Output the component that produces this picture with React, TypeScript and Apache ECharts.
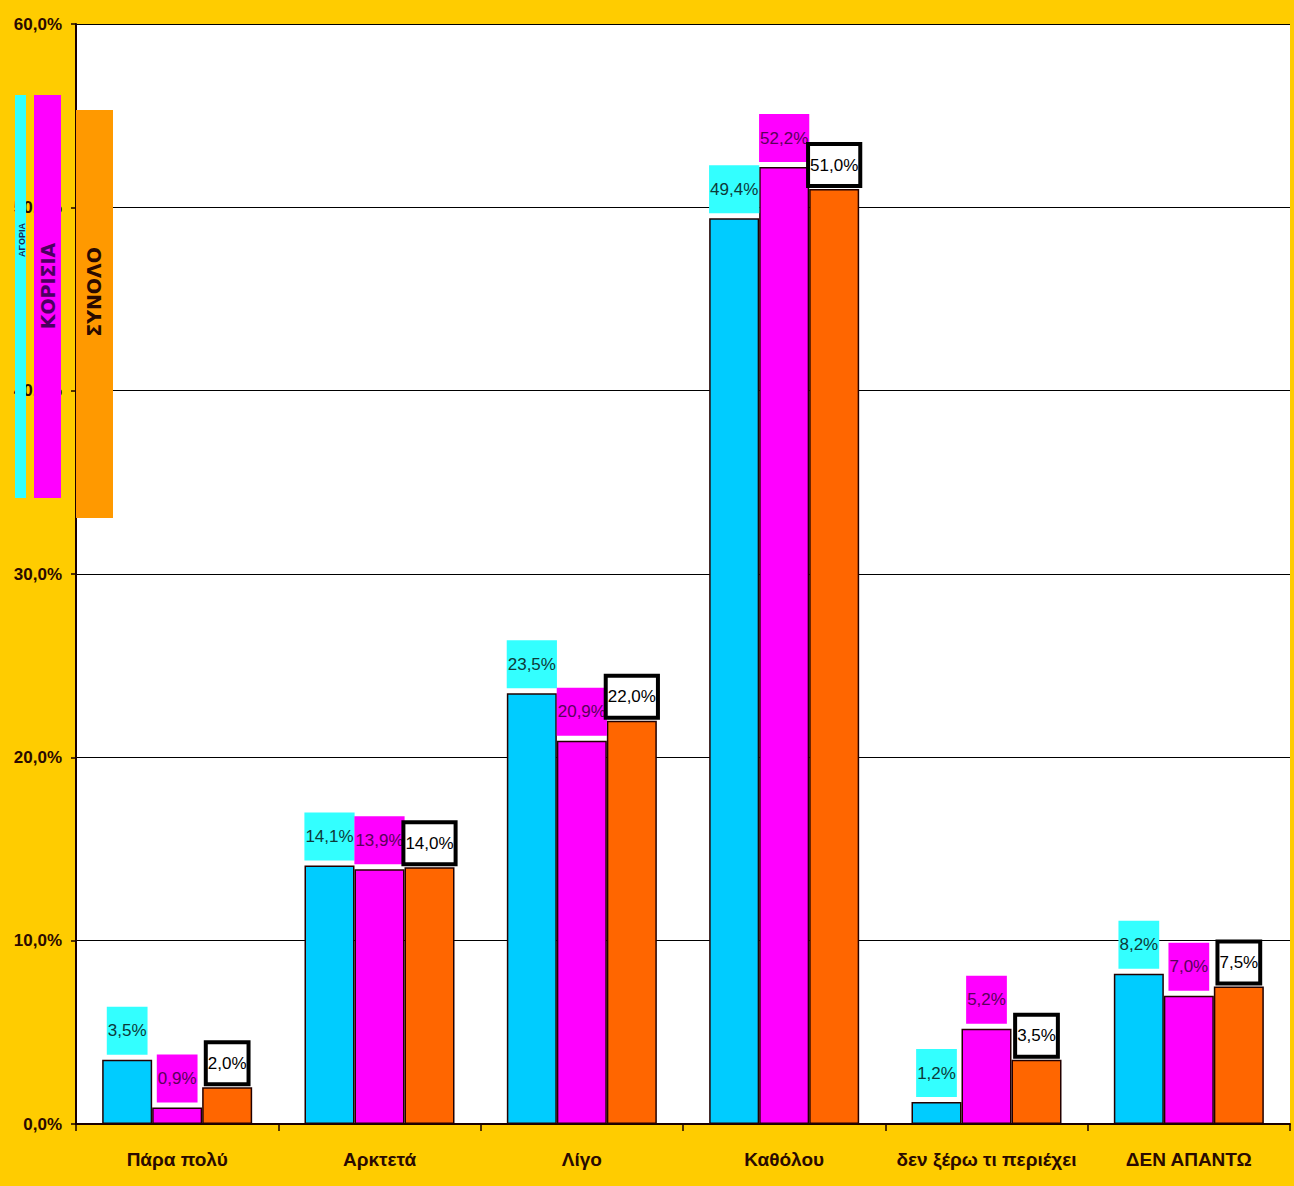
import React, { useEffect, useRef } from "react";
import * as echarts from "echarts";

const categories = ["Πάρα πολύ", "Αρκτετά", "Λίγο", "Καθόλου", "δεν ξέρω τι περιέχει", "ΔΕΝ ΑΠΑΝΤΩ"];
const seriesNames = ["ΑΓΟΡΙΑ", "ΚΟΡΙΣΙΑ", "ΣΥΝΟΛΟ"];
const boys = [3.5, 14.1, 23.5, 49.4, 1.2, 8.2];
const girls = [0.9, 13.9, 20.9, 52.2, 5.2, 7.0];
const total = [2.0, 14.0, 22.0, 51.0, 3.5, 7.5];
const yTicks = { min: 0, max: 60, interval: 10 };

const FONT = '"Liberation Sans", Arial, sans-serif';
const fmt = (v: number) => v.toFixed(1).replace(".", ",") + "%";

export default function App() {
  const ref = useRef<HTMLDivElement>(null);
  useEffect(() => {
    if (!ref.current) return;
    const chart = echarts.init(ref.current, undefined, { renderer: "svg" });
    const labelBase = {
      show: true,
      position: "top" as const,
      distance: 5,
      fontFamily: FONT,
      fontSize: 17,
      lineHeight: 22,
      padding: [13, 1],
      formatter: (p: any) => fmt(p.value),
    };
    const barBase = {
      type: "bar" as const,
      barWidth: 50,
      barGap: "0%",
    };
    chart.setOption({
      animation: false,
      backgroundColor: "#FFCC00",
      grid: { left: 76, right: 4, top: 24, bottom: 62, backgroundColor: "#FFFFFF", show: true, borderWidth: 0 },
      xAxis: {
        type: "category",
        data: categories,
        axisLine: { lineStyle: { color: "#1a0000", width: 2 } },
        axisTick: { show: true, length: 7, lineStyle: { color: "#1a0000", width: 1.5 } },
        axisLabel: { interval: 0, color: "#2a0a00", fontFamily: FONT, fontSize: 19, fontWeight: "bold", margin: 26 },
      },
      yAxis: {
        type: "value",
        min: yTicks.min,
        max: yTicks.max,
        interval: yTicks.interval,
        axisLine: { show: true, lineStyle: { color: "#1a0000", width: 2 } },
        axisTick: { show: true, length: 5, lineStyle: { color: "#1a0000", width: 1.5 } },
        splitLine: { lineStyle: { color: "#000000", width: 1.2 } },
        axisLabel: { color: "#2a0a00", fontFamily: FONT, fontSize: 17, fontWeight: "bold", margin: 14, formatter: (v: number) => fmt(v) },
      },
      series: [
        {
          ...barBase,
          name: seriesNames[0],
          data: boys,
          itemStyle: { color: "#00CCFF", borderColor: "#220000", borderWidth: 1.5 },
          label: { ...labelBase, backgroundColor: "#33FFFF", color: "#0d3a3a" },
        },
        {
          ...barBase,
          name: seriesNames[1],
          data: girls,
          itemStyle: { color: "#FF00FF", borderColor: "#220000", borderWidth: 1.5 },
          label: { ...labelBase, backgroundColor: "#FF00FF", color: "#5a005a" },
        },
        {
          ...barBase,
          name: seriesNames[2],
          data: total,
          itemStyle: { color: "#FF6600", borderColor: "#220000", borderWidth: 1.5 },
          label: { ...labelBase, backgroundColor: "#FFFFFF", color: "#000000", borderColor: "#000000", borderWidth: 4, padding: [8, 0] },
        },
      ],
      graphic: [
        { type: "rect", z: 100, shape: { x: 15, y: 95, width: 11, height: 403 }, style: { fill: "#33FFFF" } },
        { type: "text", z: 101, x: 22, y: 240, rotation: Math.PI / 2, style: { text: seriesNames[0], fill: "#1a2a5a", font: "bold 9px " + FONT, textAlign: "center", textVerticalAlign: "middle" } },
        { type: "rect", z: 100, shape: { x: 34, y: 95, width: 27, height: 403 }, style: { fill: "#FF00FF" } },
        { type: "text", z: 101, x: 48, y: 286, rotation: Math.PI / 2, style: { text: seriesNames[1], fill: "#4a0060", font: 'bold 19px "DejaVu Sans", sans-serif', textAlign: "center", textVerticalAlign: "middle" } },
        { type: "rect", z: 100, shape: { x: 76, y: 110, width: 37, height: 408 }, style: { fill: "#FF9900" } },
        { type: "text", z: 101, x: 94, y: 292, rotation: Math.PI / 2, style: { text: seriesNames[2], fill: "#2a0a00", font: 'bold 19px "DejaVu Sans", sans-serif', textAlign: "center", textVerticalAlign: "middle" } },
      ],
    });
    return () => chart.dispose();
  }, []);
  return <div ref={ref} style={{ position: "fixed", left: 0, top: 0, width: 1294, height: 1186 }} />;
}
